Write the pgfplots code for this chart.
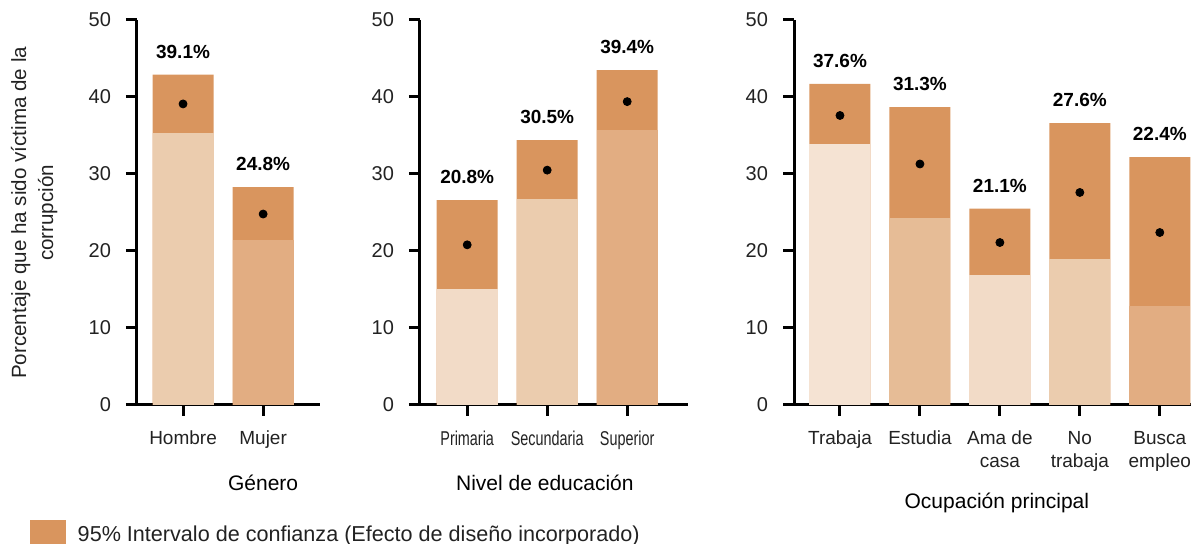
\documentclass[border=0pt]{standalone}
\usepackage{pgfplots}
\pgfplotsset{compat=1.18}
\usepackage{fontspec}
\setmainfont{Liberation Sans}
\newfontfamily\narrowfont[FakeStretch=0.72]{Liberation Sans}

\definecolor{ci}{HTML}{D9955E}
\definecolor{la}{HTML}{F5E3D3}
\definecolor{lb}{HTML}{F2DBC7}
\definecolor{lc}{HTML}{EBCCAE}
\definecolor{ld}{HTML}{E6BC96}
\definecolor{le}{HTML}{E2AD82}
\definecolor{txt}{HTML}{222222}

\pgfplotsset{
  panel/.style={
    scale only axis, anchor=south west, height=192.5pt,
    ymin=0, ymax=50, ytick={0,10,...,50},
    axis x line=bottom, axis y line=left,
    axis line style={line width=1.5pt, -},
    tick style={line width=1.5pt, black},
    major tick length=5.5pt, tick align=outside,
    /pgf/number format/assume math mode=true,
    yticklabel style={font=\fontsize{10}{12}\selectfont, text=txt, xshift=-4pt},
    xticklabel style={font=\fontsize{9.5}{11.5}\selectfont, text=txt, align=center, yshift=-4pt},
    xlabel style={font=\fontsize{10.5}{12}\selectfont, text=black, anchor=center},
    clip=false,
  },
  civ/.style={ybar, bar width=30.5pt, bar shift=0pt, draw=none, fill=ci,
    point meta=explicit symbolic, nodes near coords,
    nodes near coords style={font=\bfseries\fontsize{9.5}{11}\selectfont, text=black, anchor=south, yshift=4.5pt}},
  low/.style={ybar, bar width=30.5pt, bar shift=0pt, draw=none, fill=#1},
  dot/.style={only marks, mark=*, mark size=2pt, black},
}

\begin{document}
\begin{tikzpicture}
% Genero
\begin{axis}[panel, at={(68.5pt,69.5pt)}, width=91.5pt,
    xmin=-0.575, xmax=1.71, xtick={0,1}, xticklabels={Hombre, Mujer},
    xlabel={Género}, xlabel style={at={(axis description cs:0.689,0)}, yshift=-39pt},
    ylabel={Porcentaje que ha sido víctima de la\\corrupción},
    ylabel style={at={(axis description cs:-0.562,0.499)}, anchor=center, align=center,
      font=\fontsize{10.3}{13.5}\selectfont, text=txt},
    legend style={at={(axis description cs:-0.585,-0.338)}, anchor=west, draw=none, fill=none,
      inner sep=0pt, font=\fontsize{10.8}{12}\selectfont, text=txt},
    legend cell align=left]
\addlegendimage{legend image code/.code={\fill[ci] (0pt,-7.5pt) rectangle (17.5pt,7.5pt); \path[draw=none, fill=none] (0pt,0pt) -- (21.5pt,0pt);}}
\addlegendentry{95\% Intervalo de confianza (Efecto de diseño incorporado)}
\addplot[civ, forget plot] coordinates {(0,42.9)[39.1\%] (1,28.3)[24.8\%]};
\addplot[low=lc, forget plot] coordinates {(0,35.3)};
\addplot[low=le, forget plot] coordinates {(1,21.4)};
\addplot[dot, forget plot] coordinates {(0,39.1) (1,24.8)};
\end{axis}

% Nivel de educacion
\begin{axis}[panel, at={(210pt,69.5pt)}, width=134pt,
    xmin=-0.59, xmax=2.76, xtick={0,1,2},
    xticklabels={Primaria, Secundaria, Superior},
    xticklabel style={font=\narrowfont\fontsize{10}{12}\selectfont},
    xlabel={Nivel de educación}, xlabel style={at={(axis description cs:0.466,0)}, yshift=-39pt}]
\addplot[civ] coordinates {(0,26.6)[20.8\%] (1,34.4)[30.5\%] (2,43.5)[39.4\%]};
\addplot[low=lb] coordinates {(0,15.0)};
\addplot[low=lc] coordinates {(1,26.7)};
\addplot[low=le] coordinates {(2,35.7)};
\addplot[dot] coordinates {(0,20.8) (1,30.5) (2,39.4)};
\end{axis}

% Ocupacion principal
\begin{axis}[panel, at={(397pt,69.5pt)}, width=198.5pt,
    xmin=-0.575, xmax=4.39, xtick={0,1,2,3,4},
    xticklabels={Trabaja, Estudia, {Ama de\\casa}, {No\\trabaja}, {Busca\\empleo}},
    xlabel={Ocupación principal}, xlabel style={at={(axis description cs:0.511,0)}, yshift=-49pt}]
\addplot[civ] coordinates {(0,41.7)[37.6\%] (1,38.7)[31.3\%] (2,25.5)[21.1\%] (3,36.6)[27.6\%] (4,32.2)[22.4\%]};
\addplot[low=la] coordinates {(0,33.9)};
\addplot[low=ld] coordinates {(1,24.3)};
\addplot[low=lb] coordinates {(2,16.9)};
\addplot[low=lc] coordinates {(3,18.9)};
\addplot[low=le] coordinates {(4,12.8)};
\addplot[dot] coordinates {(0,37.6) (1,31.3) (2,21.1) (3,27.6) (4,22.4)};
\end{axis}

\pgfresetboundingbox
\path[use as bounding box] (0,0) rectangle (595.5pt,272pt);
\end{tikzpicture}
\end{document}
